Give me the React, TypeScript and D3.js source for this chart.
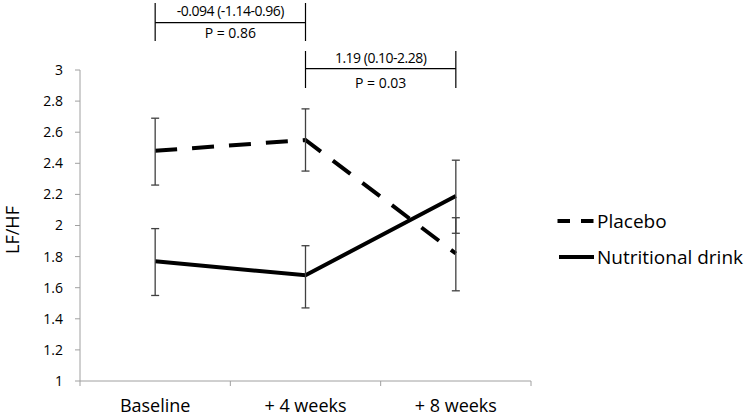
import React from "react";
import * as d3 from "d3";

const categories = ["Baseline", "+ 4 weeks", "+ 8 weeks"];
const placeboMean = [2.48, 2.55, 1.82];
const placeboLow = [2.26, 2.35, 1.58];
const placeboHigh = [2.69, 2.75, 2.05];
const drinkMean = [1.77, 1.68, 2.19];
const drinkLow = [1.55, 1.47, 1.95];
const drinkHigh = [1.98, 1.87, 2.42];
const yTicks = [1, 1.2, 1.4, 1.6, 1.8, 2, 2.2, 2.4, 2.6, 2.8, 3];
const yTickLabels = ["1", "1.2", "1.4", "1.6", "1.8", "2", "2.2", "2.4", "2.6", "2.8", "3"];
const compFrom = ["Baseline", "+ 4 weeks"];
const compTo = ["+ 4 weeks", "+ 8 weeks"];
const compEffect = ["-0.094 (-1.14-0.96)", "1.19 (0.10-2.28)"];
const compP = ["P = 0.86", "P = 0.03"];
const seriesNames = ["Placebo", "Nutritional drink"];

const FONT = "'Open Sans', 'Noto Sans', sans-serif";

export default function App() {
  const W = 745, H = 416;
  const x = d3.scaleBand<string>().domain(categories).range([80, 531]).padding(0);
  const y = d3.scaleLinear().domain([1, 3]).range([381, 70]);
  const cx = (c: string) => (x(c) as number) + x.bandwidth() / 2;
  const line = d3.line<number>().x((_, i) => cx(categories[i])).y((v) => y(v));
  const axisColor = "#a0a0a0";
  const errColor = "#404040";

  const series = [
    { name: seriesNames[0], mean: placeboMean, lo: placeboLow, hi: placeboHigh, dash: "22 15" },
    { name: seriesNames[1], mean: drinkMean, lo: drinkLow, hi: drinkHigh, dash: undefined as string | undefined },
  ];

  const brackets = [
    { top: 3, bottom: 41, mid: 22.7, t1: 15.5, t2: 37.5 },
    { top: 51, bottom: 88, mid: 68.7, t1: 63, t2: 87.5 },
  ];

  return (
    <svg width={W} height={H} style={{ position: "absolute", left: 0, top: 0, background: "#fff" }} fontFamily={FONT}>
      <rect width={W} height={H} fill="#fff" />
      {/* y axis */}
      <line x1={80} x2={80} y1={y(3)} y2={y(1)} stroke={axisColor} strokeWidth={1} />
      {yTicks.map((t, i) => (
        <g key={t}>
          <line x1={75} x2={80} y1={y(t)} y2={y(t)} stroke={axisColor} strokeWidth={1} />
          <text x={63} y={y(t)} dy="0.35em" textAnchor="end" fontSize={14} fill="#000">
            {yTickLabels[i]}
          </text>
        </g>
      ))}
      {/* x axis */}
      <line x1={80} x2={531} y1={y(1)} y2={y(1)} stroke={axisColor} strokeWidth={1} />
      {[...categories.map((c) => x(c) as number), 531].map((tx, i) => (
        <line key={i} x1={tx} x2={tx} y1={y(1)} y2={y(1) + 5} stroke={axisColor} strokeWidth={1} />
      ))}
      {categories.map((c) => (
        <text key={c} x={cx(c)} y={412} textAnchor="middle" fontSize={18} fill="#000">
          {c}
        </text>
      ))}
      {/* y label */}
      <text transform={`translate(19,230) rotate(-90)`} textAnchor="middle" fontSize={18} fill="#000">
        LF/HF
      </text>
      {/* series lines */}
      {series.map((s) => (
        <path key={s.name} d={line(s.mean) || ""} fill="none" stroke="#000" strokeWidth={4}
          strokeDasharray={s.dash} />
      ))}
      {/* error bars */}
      {series.map((s) =>
        categories.map((c, i) => (
          <g key={s.name + c} stroke={errColor} strokeWidth={1.3}>
            <line x1={cx(c)} x2={cx(c)} y1={y(s.hi[i])} y2={y(s.lo[i])} />
            <line x1={cx(c) - 4} x2={cx(c) + 4} y1={y(s.hi[i])} y2={y(s.hi[i])} />
            <line x1={cx(c) - 4} x2={cx(c) + 4} y1={y(s.lo[i])} y2={y(s.lo[i])} />
          </g>
        ))
      )}
      {/* comparison brackets */}
      {compFrom.map((f, i) => {
        const x1 = cx(f), x2 = cx(compTo[i]);
        const b = brackets[i];
        return (
          <g key={i}>
            <line x1={x1} x2={x1} y1={b.top} y2={b.bottom} stroke="#000" strokeWidth={1.2} />
            <line x1={x2} x2={x2} y1={b.top} y2={b.bottom} stroke="#000" strokeWidth={1.2} />
            <line x1={x1} x2={x2} y1={b.mid} y2={b.mid} stroke="#000" strokeWidth={1.2} />
            <text x={(x1 + x2) / 2} y={b.t1} textAnchor="middle" fontSize={14} letterSpacing={-0.5}>{compEffect[i]}</text>
            <text x={(x1 + x2) / 2} y={b.t2} textAnchor="middle" fontSize={14}>{compP[i]}</text>
          </g>
        );
      })}
      {/* legend */}
      {series.map((s, i) => {
        const ly = i === 0 ? 221 : 257;
        return (
          <g key={s.name}>
            <line x1={s.dash ? 557.5 : 559} x2={594} y1={ly} y2={ly} stroke="#000" strokeWidth={4}
              strokeDasharray={s.dash ? "12.5 11" : undefined} />
            <text x={597} y={ly + 6.5} fontSize={19}>{s.name}</text>
          </g>
        );
      })}
    </svg>
  );
}
